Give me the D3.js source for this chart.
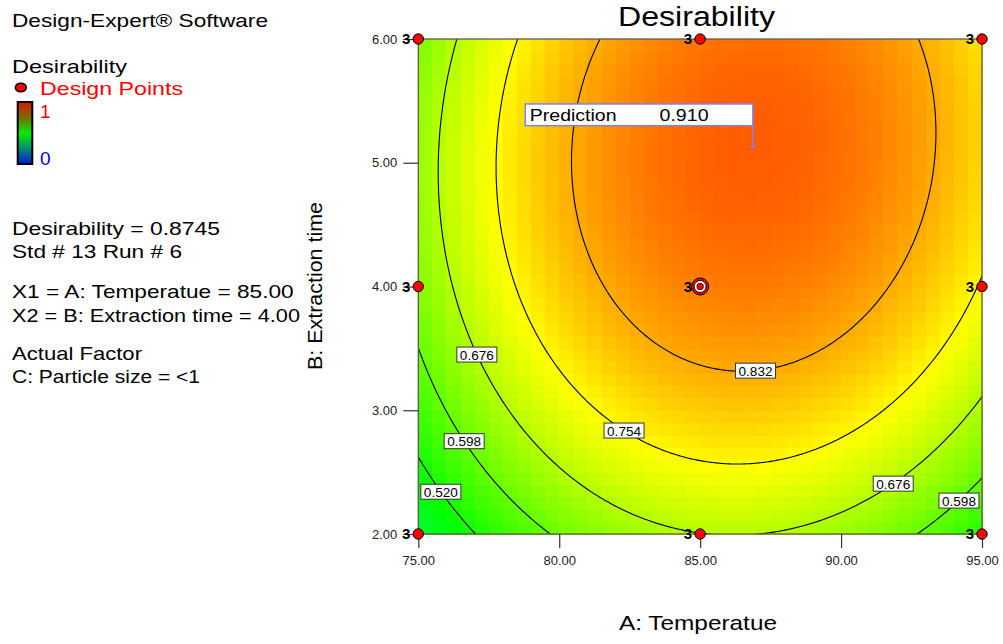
<!DOCTYPE html>
<html>
<head>
<meta charset="utf-8">
<script src="https://cdn.jsdelivr.net/npm/d3@7"></script>
<style>
  body { margin: 0; background: #fff; }
  svg { display: block; font-family: "Liberation Sans", Arial, sans-serif; }
</style>
</head>
<body>
<svg id="chart" width="1003" height="644"></svg>
<script>
// ---- factor ranges and axis ticks (actual units) ----
const tempRange = [75, 95];            // A: Temperatue
const timeRange = [2, 6];              // B: Extraction time
const tempTicks = [75, 80, 85, 90, 95];
const timeTicks = [2, 3, 4, 5, 6];

// ---- fitted quadratic desirability model, coded factors ----
// x1 = (A - 85) / 10, x2 = (B - 4) / 2
// terms: intercept, x1, x2, x1*x2, x1^2, x2^2
const modelCoefs = [0.8748, 0.0617, 0.1044, 0.017, -0.1875, -0.0956];

// ---- contour levels and where their labels sit: [level, A, B] ----
const contourLevels = [0.520, 0.598, 0.676, 0.754, 0.832];
const contourLabelSpots = [
  [0.832, 86.94, 3.39],
  [0.676, 77.15, 3.46],
  [0.754, 82.44, 2.88],
  [0.598, 76.75, 2.77],
  [0.520, 75.91, 2.36],
  [0.676, 91.67, 2.47],
  [0.598, 93.97, 2.32]
];

// ---- design points ----
const designTemps = [75, 85, 95, 75, 95, 75, 85, 95];
const designTimes = [2, 2, 2, 4, 4, 6, 6, 6];
const designReps  = [3, 3, 3, 3, 3, 3, 3, 3];
const centerTemp = 85, centerTime = 4, centerReps = 3;

// ---- prediction flag ----
const predTemp = 86.87, predTime = 5.13, predValue = 0.910;

// ---- side panel text ----
const infoLines = [
  "Desirability = 0.8745",
  "Std # 13 Run # 6",
  "",
  "X1 = A: Temperatue = 85.00",
  "X2 = B: Extraction time = 4.00",
  "",
  "Actual Factor",
  "C: Particle size = <1"
];

function desirability(A, B) {
  const x1 = (A - 85) / 10, x2 = (B - 4) / 2;
  const c = modelCoefs;
  return c[0] + c[1] * x1 + c[2] * x2 + c[3] * x1 * x2 + c[4] * x1 * x1 + c[5] * x2 * x2;
}

const svg = d3.select("#chart");
const plot = { left: 418.3, right: 982, top: 39, bottom: 534 };

const x = d3.scaleLinear().domain(tempRange).range([plot.left, plot.right]);
const y = d3.scaleLinear().domain(timeRange).range([plot.bottom, plot.top]);

// blue -> cyan -> green -> yellow -> red
const color = d3.scaleLinear()
  .domain([0, 0.25, 0.5, 0.75, 1])
  .range(["#0000ff", "#00ffff", "#00ff00", "#ffff00", "#ff0000"])
  .clamp(true);

const defs = svg.append("defs");
defs.append("clipPath").attr("id", "plotClip")
  .append("rect")
  .attr("x", plot.left).attr("y", plot.top)
  .attr("width", plot.right - plot.left).attr("height", plot.bottom - plot.top);

// ---- shaded surface: 40 x 40 cells ----
const nCells = 40;
const dA = (tempRange[1] - tempRange[0]) / nCells;
const dB = (timeRange[1] - timeRange[0]) / nCells;
const cells = [];
for (let j = 0; j < nCells; j++) {
  for (let i = 0; i < nCells; i++) {
    const a0 = tempRange[0] + i * dA, b0 = timeRange[0] + j * dB;
    cells.push({ a0, b0, v: desirability(a0 + dA / 2, b0 + dB / 2) });
  }
}
svg.append("g")
  .attr("shape-rendering", "crispEdges")
  .selectAll("rect").data(cells).join("rect")
  .attr("x", d => x(d.a0))
  .attr("y", d => y(d.b0 + dB))
  .attr("width", d => x(d.a0 + dA) - x(d.a0) + 0.6)
  .attr("height", d => y(d.b0) - y(d.b0 + dB) + 0.6)
  .attr("fill", d => color(d.v));

// ---- contour lines (grid extends past the plot, then clipped) ----
const gA0 = 74, gA1 = 96, gB0 = 1.8, gB1 = 6.2;
const nx = 441, ny = 441;
const sA = (gA1 - gA0) / (nx - 1), sB = (gB1 - gB0) / (ny - 1);
const grid = new Float64Array(nx * ny);
for (let j = 0; j < ny; j++) {
  for (let i = 0; i < nx; i++) {
    grid[j * nx + i] = desirability(gA0 + i * sA, gB0 + j * sB);
  }
}
const contours = d3.contours().size([nx, ny]).thresholds(contourLevels)(grid);
const toPx = (gx, gy) => [x(gA0 + (gx - 0.5) * sA), y(gB0 + (gy - 0.5) * sB)];
const proj = d3.geoTransform({
  point: function (gx, gy) { const p = toPx(gx, gy); this.stream.point(p[0], p[1]); }
});
const path = d3.geoPath(proj);

svg.append("g")
  .attr("clip-path", "url(#plotClip)")
  .selectAll("path").data(contours).join("path")
  .attr("d", path)
  .attr("fill", "none")
  .attr("stroke", "#000")
  .attr("stroke-width", 1.1);

// ---- frame ----
svg.append("rect")
  .attr("x", plot.left).attr("y", plot.top)
  .attr("width", plot.right - plot.left).attr("height", plot.bottom - plot.top)
  .attr("fill", "none").attr("stroke", "#5c5c4c").attr("stroke-width", 1.3);

// ---- contour labels, snapped onto their line ----
const labelG = svg.append("g");
contourLabelSpots.forEach(([level, A, B]) => {
  const c = contours.find(k => Math.abs(k.value - level) < 1e-9);
  const target = [x(A), y(B)];
  let best = null, bestD = Infinity;
  c.coordinates.forEach(poly => poly.forEach(ring => ring.forEach(pt => {
    const p = toPx(pt[0], pt[1]);
    if (p[0] < plot.left || p[0] > plot.right || p[1] < plot.top || p[1] > plot.bottom) return;
    const d = (p[0] - target[0]) ** 2 + (p[1] - target[1]) ** 2;
    if (d < bestD) { bestD = d; best = p; }
  })));
  if (!best) return;
  const g = labelG.append("g").attr("transform", `translate(${best[0]},${best[1]})`);
  g.append("rect").attr("x", -20).attr("y", -7.5).attr("width", 40).attr("height", 15)
    .attr("fill", "#fff").attr("stroke", "#333").attr("stroke-width", 1);
  g.append("text").attr("text-anchor", "middle").attr("y", 5)
    .attr("font-size", 13).attr("textLength", 34).attr("lengthAdjust", "spacingAndGlyphs")
    .text(d3.format(".3f")(level));
});

// ---- axes ----
const fmt = d3.format(".2f");
const yAxis = svg.append("g")
  .attr("transform", `translate(${plot.left},0)`)
  .call(d3.axisLeft(y).tickValues(timeTicks).tickFormat(fmt).tickSize(15).tickPadding(6));
const xAxis = svg.append("g")
  .attr("transform", `translate(0,${plot.bottom})`)
  .call(d3.axisBottom(x).tickValues(tempTicks).tickFormat(fmt).tickSize(14).tickPadding(8));
[xAxis, yAxis].forEach(ax => {
  ax.select(".domain").remove();
  ax.selectAll("line").attr("stroke", "#333").attr("stroke-width", 1.2);
  ax.selectAll("text").attr("font-size", 13).attr("fill", "#222")
    .attr("font-family", "\"Liberation Sans\", Arial, sans-serif");
});

// ---- design points ----
const ptG = svg.append("g");
designTemps.forEach((A, k) => {
  const px = x(A), py = y(designTimes[k]);
  ptG.append("text").attr("x", px - 8).attr("y", py + 5).attr("text-anchor", "end")
    .attr("font-size", 15).attr("font-weight", "bold").text(designReps[k]);
  ptG.append("circle").attr("cx", px).attr("cy", py).attr("r", 5.2)
    .attr("fill", "#ff0000").attr("stroke", "#000").attr("stroke-width", 1);
});
{
  const px = x(centerTemp), py = y(centerTime);
  ptG.append("text").attr("x", px - 8).attr("y", py + 5).attr("text-anchor", "end")
    .attr("font-size", 15).attr("font-weight", "bold").text(centerReps);
  ptG.append("circle").attr("cx", px).attr("cy", py).attr("r", 8.5)
    .attr("fill", "#ff0000").attr("stroke", "#000").attr("stroke-width", 1);
  ptG.append("circle").attr("cx", px).attr("cy", py).attr("r", 6)
    .attr("fill", "#fff").attr("stroke", "#000").attr("stroke-width", 1);
  ptG.append("circle").attr("cx", px).attr("cy", py).attr("r", 3.3)
    .attr("fill", "#ff0000").attr("stroke", "#000").attr("stroke-width", 0.8);
}

// ---- prediction flag ----
{
  const px = x(predTemp), py = y(predTime);
  const g = svg.append("g");
  g.append("line").attr("x1", px).attr("x2", px).attr("y1", py - 21).attr("y2", py)
    .attr("stroke", "#8080f0").attr("stroke-width", 1.5);
  g.append("circle").attr("cx", px).attr("cy", py).attr("r", 1.8).attr("fill", "#8080f0");
  g.append("rect").attr("x", px - 227.6).attr("y", py - 42.7).attr("width", 227.6).attr("height", 21.7)
    .attr("fill", "#fff").attr("stroke", "#8080f0").attr("stroke-width", 1.5);
  g.append("text").attr("x", px - 223).attr("y", py - 25.3).attr("font-size", 17)
    .attr("textLength", 86.7).attr("lengthAdjust", "spacingAndGlyphs").text("Prediction");
  g.append("text").attr("x", px - 93.3).attr("y", py - 25.3).attr("font-size", 17)
    .attr("textLength", 49).attr("lengthAdjust", "spacingAndGlyphs").text(d3.format(".3f")(predValue));
}

// ---- titles ----
svg.append("text").attr("x", 618).attr("y", 26).attr("font-size", 27)
  .attr("textLength", 157).attr("lengthAdjust", "spacingAndGlyphs").text("Desirability");
svg.append("text").attr("x", 619).attr("y", 630).attr("font-size", 21)
  .attr("textLength", 158).attr("lengthAdjust", "spacingAndGlyphs").text("A: Temperatue");
svg.append("text").attr("transform", "translate(322,286) rotate(-90)")
  .attr("text-anchor", "middle").attr("font-size", 21)
  .attr("textLength", 168).attr("lengthAdjust", "spacingAndGlyphs").text("B: Extraction time");

// ---- side panel ----
const side = svg.append("g");
side.append("text").attr("x", 12).attr("y", 26.7).attr("font-size", 19)
  .attr("textLength", 256).attr("lengthAdjust", "spacingAndGlyphs").text("Design-Expert® Software");
side.append("text").attr("x", 12).attr("y", 72.7).attr("font-size", 19)
  .attr("textLength", 115).attr("lengthAdjust", "spacingAndGlyphs").text("Desirability");
side.append("ellipse").attr("cx", 20.8).attr("cy", 87.5).attr("rx", 5.5).attr("ry", 4.3)
  .attr("fill", "#ff0000").attr("stroke", "#000").attr("stroke-width", 1.5);
side.append("text").attr("x", 40).attr("y", 95).attr("font-size", 19).attr("fill", "#ff0000")
  .attr("textLength", 143).attr("lengthAdjust", "spacingAndGlyphs").text("Design Points");

const grad = defs.append("linearGradient").attr("id", "legendGrad")
  .attr("x1", 0).attr("y1", 1).attr("x2", 0).attr("y2", 0);
[[0, "#0018d8"], [0.25, "#008c70"], [0.5, "#00f000"], [0.75, "#7a6a00"], [1, "#d81800"]]
  .forEach(([o, c]) => grad.append("stop").attr("offset", o).attr("stop-color", c));
side.append("rect").attr("x", 17.7).attr("y", 102).attr("width", 14.6).attr("height", 62)
  .attr("fill", "url(#legendGrad)").attr("stroke", "#000").attr("stroke-width", 2);
side.append("text").attr("x", 40).attr("y", 118.3).attr("font-size", 19).attr("fill", "#ff0000").text("1");
side.append("text").attr("x", 40).attr("y", 165).attr("font-size", 19).attr("fill", "#0000ff").text("0");

const infoWidths = [208, 170, 0, 281.7, 288, 0, 130, 188];
const infoBase = [235, 258.3, 0, 298.3, 321.7, 0, 360, 383.3];
infoLines.forEach((t, k) => {
  if (!t) return;
  side.append("text").attr("x", 12).attr("y", infoBase[k]).attr("font-size", 19)
    .attr("textLength", infoWidths[k]).attr("lengthAdjust", "spacingAndGlyphs").text(t);
});
</script>
</body>
</html>
